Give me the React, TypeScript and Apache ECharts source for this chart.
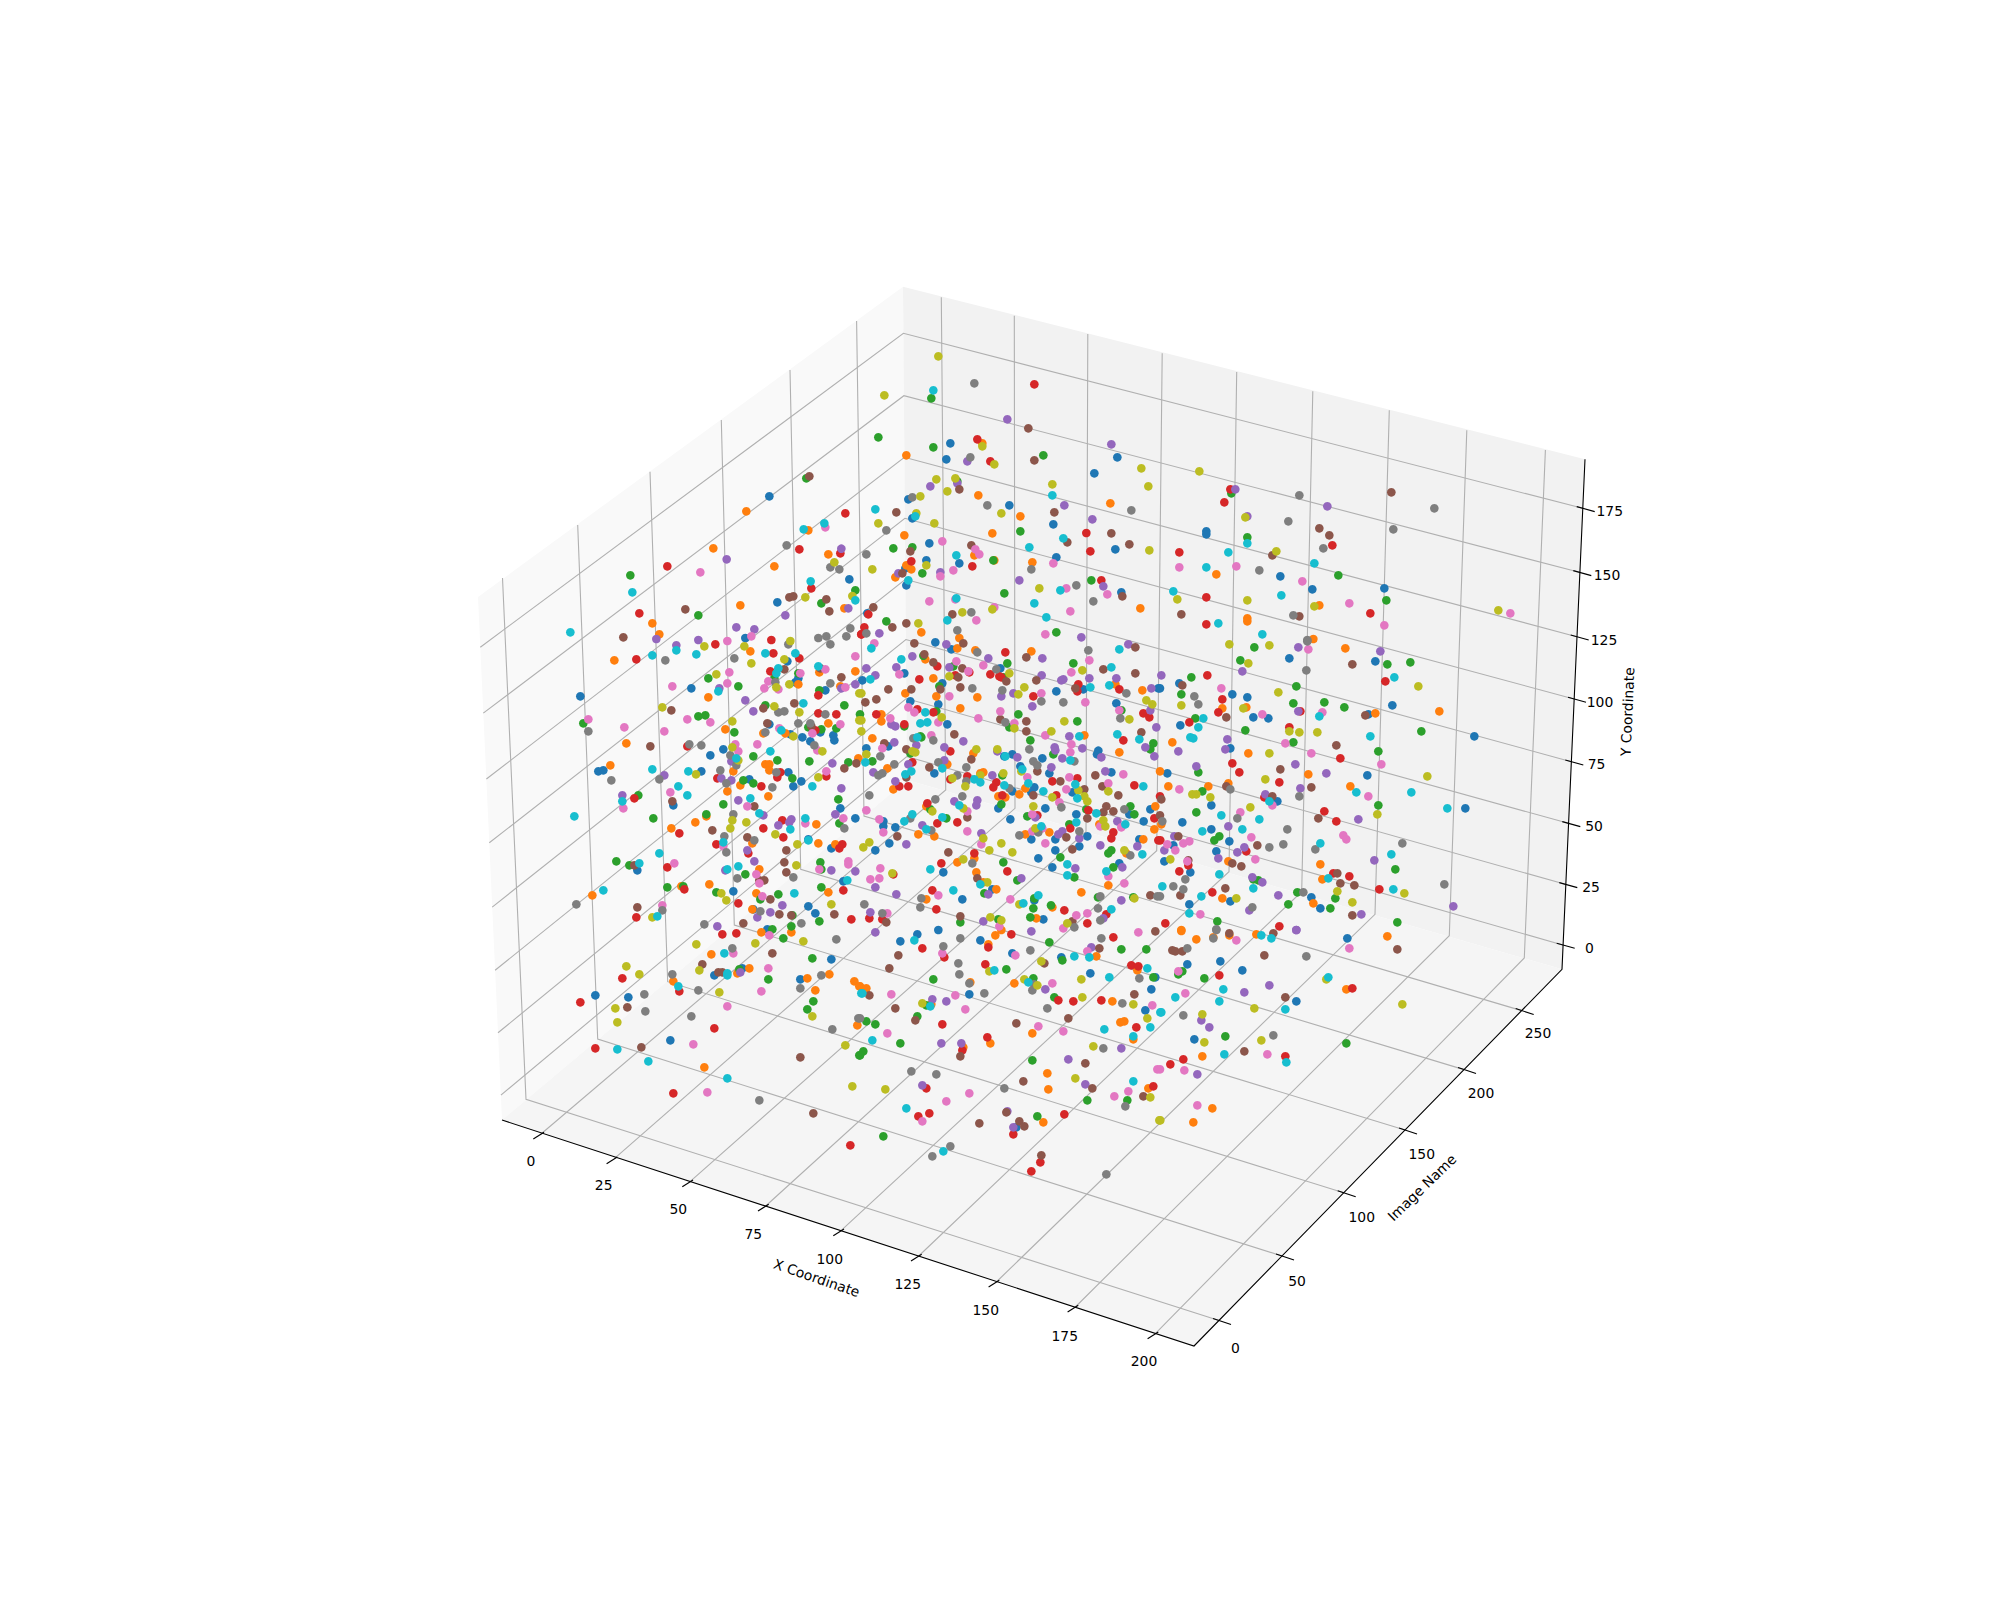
import React, { useEffect, useRef } from "react";
import * as echarts from "echarts";

// colour index: 0 blue,1 orange,2 green,3 red,4 purple,5 brown,6 pink,7 gray,8 olive,9 cyan
const seriesColors = ["#1f77b4","#ff7f0e","#2ca02c","#d62728","#9467bd","#8c564b","#e377c2","#7f7f7f","#bcbd22","#17becf"];
type P = [number, number, number];

// Points: projected position within a tile (tile units are 1/3 px), and colour index
const tileA: P[] = [[739,385,2],[748,379,5],[628,439,0],[559,484,1],[856,490,3],[793,520,9],[796,532,6],[731,538,9],[745,541,1],[680,586,7],[718,598,3],[844,596,4],[841,610,3],[805,613,1],[823,637,8],[811,652,7],[838,658,7],[460,595,1],[500,628,4],[322,649,3],[421,667,6],[643,649,1],[211,676,2],[217,727,9],[752,694,9],[868,688,0],[754,715,3],[886,721,2],[877,738,8],[886,751,9],[688,742,5],[700,739,5],[736,742,8],[652,757,0],[799,748,5],[784,760,2],[853,775,1],[865,775,4],[808,784,5],[541,766,1],[376,778,5],[415,796,2],[238,790,3],[676,796,4],[277,820,1],[529,832,4],[583,838,4],[871,835,7],[31,847,9],[298,853,1],[190,862,5],[289,867,4],[415,870,4],[502,873,6],[556,864,0],[574,859,6],[634,870,3],[691,873,8],[775,864,7],[799,859,7],[859,859,7],[904,853,3]];
const tileB: P[] = [[235,19,8],[343,100,7],[523,103,3],[73,136,8],[220,121,9],[214,145,2],[442,208,4],[505,235,5],[55,262,2],[220,292,2],[271,280,0],[367,280,1],[352,268,3],[367,289,8],[754,283,4],[139,316,1],[259,328,0],[322,334,4],[331,322,7],[403,343,8],[391,334,3],[523,331,5],[550,316,2],[772,322,0],[844,355,8],[703,370,0],[229,388,8],[292,400,4],[292,394,2],[286,385,8],[211,409,4],[577,403,8],[865,409,8],[262,424,8],[298,418,5],[577,436,9],[355,436,1],[145,448,0],[157,442,7],[181,439,8],[751,460,1],[613,466,4],[382,466,7],[448,466,0],[46,478,9],[109,487,5],[166,499,9],[157,505,0],[169,490,8],[424,490,8],[481,499,1],[583,487,5],[814,481,7],[697,508,4],[55,520,8],[223,520,8],[580,523,0],[79,541,7],[133,556,1],[397,550,1],[481,544,2],[679,549,3],[754,550,5],[622,577,5],[610,565,9],[247,574,6],[208,580,0],[334,586,5],[100,595,2],[151,604,5],[157,592,2],[508,592,9],[346,598,6],[808,583,5],[766,598,0],[868,601,8],[691,604,3],[19,613,7],[358,613,6],[343,616,1],[289,616,9],[589,622,0],[154,634,3],[199,646,8],[199,631,0],[400,631,2],[403,631,1],[517,637,1],[580,640,6],[298,640,0],[136,655,0],[139,646,1],[337,649,3],[37,658,8],[154,658,1],[280,661,6],[514,658,7],[241,667,4],[115,670,4],[127,670,5],[187,670,2],[241,679,6],[106,682,1],[478,691,4],[694,691,2],[724,691,3],[139,706,0],[145,691,9],[649,706,7],[730,709,4],[538,715,8],[619,715,6],[601,721,9],[433,730,2],[787,739,5],[784,727,0],[742,733,6],[286,748,6],[289,745,9],[208,754,6],[700,754,7],[523,760,9],[841,775,1],[40,772,5],[397,778,8],[403,772,6],[307,787,8],[334,787,7],[277,793,5],[631,784,6],[22,790,0],[25,793,3],[559,802,9],[79,814,2],[262,811,9],[349,811,6],[139,820,5],[175,820,8],[13,832,3],[97,832,5],[292,841,7],[184,847,1],[589,847,2],[556,853,6],[58,850,4],[19,850,7],[4,853,3],[664,862,4],[298,864,1]];
const tileC: P[] = [[118,364,8],[211,418,3],[214,430,2],[226,418,4],[418,436,7],[694,427,5],[193,457,3],[502,469,4],[823,475,7],[262,499,4],[256,502,8],[385,514,7],[478,535,5],[700,538,7],[139,544,0],[139,553,0],[508,556,5],[262,562,2],[262,580,9],[517,586,3],[490,595,7],[349,604,8],[58,607,3],[205,607,9],[337,616,5],[463,640,9],[58,652,6],[139,652,9],[229,649,6],[298,661,7],[169,673,1],[361,679,0],[535,676,2],[427,694,6],[457,718,0],[673,715,0],[40,724,9],[364,736,9],[139,742,3],[52,748,8],[262,751,8],[679,751,2],[568,760,6],[478,766,1],[463,769,8],[64,793,5],[631,790,3],[400,796,7],[418,799,5],[1015,781,8],[1051,790,6],[262,805,1],[262,814,1],[139,823,3],[175,820,9],[307,853,9],[673,826,6],[442,870,7],[460,867,1]];
const tileD: P[] = [[349,16,4],[433,19,8],[466,13,3],[553,19,8],[685,13,7],[811,13,7],[349,31,9],[571,34,1],[277,46,9],[409,43,9],[616,40,9],[640,40,3],[706,40,9],[886,49,6],[163,61,1],[229,58,3],[316,61,7],[523,55,7],[673,58,8],[682,64,0],[718,55,3],[574,70,8],[775,79,9],[781,85,5],[796,88,6],[655,85,9],[673,88,5],[631,94,3],[649,100,9],[778,97,1],[886,94,1],[715,100,2],[721,100,6],[469,103,8],[508,97,6],[445,115,2],[844,112,5],[715,115,0],[643,115,2],[625,124,6],[646,127,7],[706,127,0],[715,133,1],[811,130,7],[886,133,4],[502,130,6],[688,133,8],[337,139,6],[394,145,0],[535,139,2],[649,142,8],[613,145,6],[655,148,6],[841,139,1],[844,145,4],[856,142,6],[478,145,4],[475,154,9],[778,151,2],[796,151,0],[775,166,3],[898,160,8],[445,172,1],[61,169,0],[556,181,4],[703,190,5],[730,190,9],[853,196,2],[616,196,2],[643,199,8],[307,202,8],[334,211,5],[610,205,5],[580,214,4],[655,217,7],[673,214,7],[718,217,8],[775,220,3],[796,223,7],[829,223,3],[415,229,2],[436,226,2],[85,238,6],[382,238,6],[451,247,6],[517,244,8],[628,253,0],[622,250,5],[715,250,7],[751,250,7],[805,250,1],[841,253,6],[898,241,8],[70,250,2],[193,262,6],[85,274,7],[313,274,6],[496,268,1],[523,277,2],[745,262,2],[754,259,5],[658,265,6],[664,271,9],[766,271,3],[784,268,2],[829,265,2],[616,277,7],[610,280,1],[691,283,0],[676,280,1],[757,280,6],[781,277,0],[700,289,8],[727,292,0],[820,286,0],[823,301,0],[199,310,1],[271,319,5],[382,319,3],[388,313,7],[424,316,7],[592,313,6],[526,313,6],[517,322,8],[751,304,0],[763,316,7],[772,331,6],[787,334,8],[490,328,0],[535,334,6],[631,334,9],[451,346,0],[511,346,7],[580,349,2],[535,361,8],[514,364,4],[529,355,9],[529,376,7],[652,361,2],[748,364,2],[865,367,2],[895,355,1],[889,370,5],[817,370,4],[151,376,1],[616,373,1],[628,373,1],[853,385,5],[115,394,0],[130,391,0],[277,388,9],[385,394,9],[424,394,0],[408,403,8],[481,391,7],[520,394,1],[628,391,1],[661,397,3],[649,397,7],[685,397,0],[799,394,6],[313,406,4],[298,418,7],[154,421,7],[472,415,3],[484,415,4],[514,421,4],[550,421,2],[568,418,0],[697,415,2],[652,412,3],[799,409,3],[775,412,8],[724,424,0],[499,430,7],[580,430,2],[541,436,1],[604,439,3],[700,439,0],[637,442,7],[757,439,9],[355,439,9],[844,445,4],[331,457,6],[502,454,1],[382,466,9],[187,466,4],[235,466,2],[223,475,3],[187,484,9],[625,469,1],[571,475,9],[535,481,4],[835,478,2],[340,496,0],[337,484,5],[490,493,2],[190,505,6],[562,499,6],[583,499,5],[841,505,0],[43,529,9],[280,535,2],[520,523,7],[439,529,1],[439,523,2],[610,526,4],[598,520,9],[826,523,4],[517,541,8],[667,541,3],[694,538,4],[886,535,0],[850,535,6],[736,535,9],[688,547,4],[736,550,6],[769,553,1],[406,547,1],[559,547,8],[655,556,4],[838,550,2],[511,565,8],[334,565,1],[610,565,3],[691,568,9],[853,565,7],[457,571,5],[358,580,3],[646,583,8],[493,589,7],[562,592,5],[670,592,3],[583,601,7],[745,598,0],[745,601,9],[775,610,1],[490,607,9],[577,610,1],[469,613,3],[490,619,6],[712,613,8],[826,613,1],[847,613,3],[814,625,0],[838,625,3],[562,631,4],[679,631,5],[565,640,3],[499,637,7],[298,640,9],[583,664,4],[169,664,2],[343,670,6],[673,667,5],[781,667,2],[865,664,6],[865,673,6],[238,670,9],[208,676,2],[232,691,0],[223,676,5],[322,682,3],[535,679,9],[709,676,8],[886,694,4],[814,691,4],[502,688,9],[496,691,4],[598,688,1],[784,688,2],[778,688,6],[679,697,5],[556,703,2],[589,703,6],[700,712,7],[532,715,7],[598,730,6],[598,721,5],[613,721,5],[850,724,0],[862,721,9],[448,733,1],[373,748,3],[364,739,1],[370,739,2],[322,742,2],[520,754,0],[784,742,2],[850,751,3],[805,757,1],[130,751,9],[469,757,2],[484,760,8],[589,760,1],[703,760,9],[655,763,2],[97,766,1],[607,769,6],[631,778,5],[601,778,2],[499,781,8],[49,793,7],[535,790,3],[814,793,8],[667,796,4],[745,799,0],[232,802,5],[307,811,7],[307,796,6],[577,808,1],[580,808,0],[601,814,7],[766,820,0],[631,817,4],[658,823,5],[697,826,2],[694,826,5],[823,823,5],[229,832,3],[292,829,9],[277,832,8],[592,832,4],[874,838,3],[778,844,2],[724,850,7],[550,850,5],[433,853,7],[472,859,4],[694,859,2],[622,868,0],[637,868,2]];
const tileE: P[] = [[43,10,6],[163,10,5],[226,7,0],[259,13,4],[310,10,5],[805,13,4],[826,22,5],[274,28,0],[292,25,1],[34,25,9],[352,37,7],[346,31,1],[436,37,3],[514,34,1],[685,31,7],[778,28,9],[157,49,4],[193,43,5],[190,47,2],[499,52,5],[547,55,4],[196,58,1],[688,61,6],[124,58,9],[289,64,6],[220,67,5],[442,70,2],[232,79,3],[640,70,2],[385,55,4],[370,76,6],[268,82,4],[280,79,2],[307,85,5],[409,88,7],[421,85,0],[754,82,9],[730,88,5],[826,100,5],[667,91,8],[634,97,6],[109,82,4],[19,85,4],[448,100,8],[328,97,3],[325,94,6],[391,103,3],[133,100,0],[118,103,6],[46,106,4],[268,109,8],[295,112,5],[286,106,3],[430,112,2],[418,109,3],[424,112,3],[545,106,4],[220,115,1],[178,118,3],[31,118,9],[7,121,0],[529,121,5],[688,115,4],[604,121,4],[610,118,4],[769,115,4],[439,124,5],[238,139,2],[247,130,0],[241,148,5],[655,133,3],[337,145,7],[301,142,5],[748,136,9],[766,133,1],[778,148,3],[691,142,9],[646,145,5],[670,148,0],[493,142,8],[85,148,5],[154,148,5],[136,160,1],[427,151,7],[589,154,0],[652,154,3],[847,151,1],[874,145,4],[895,145,0],[460,160,4],[475,163,8],[544,160,6],[799,160,7],[4,160,8],[268,169,6],[229,169,1],[520,169,3],[424,169,4],[352,172,1],[517,199,4],[859,181,8],[16,187,5],[49,178,5],[151,184,0],[544,184,7],[610,187,7],[676,187,6],[877,193,8],[769,190,0],[235,193,0],[145,202,6],[301,205,1],[172,208,3],[871,211,4],[784,211,2],[778,211,6],[421,214,6],[475,223,2],[229,214,2],[196,217,9],[220,217,3],[163,217,6],[49,223,3],[64,223,1],[850,220,3],[868,232,3],[245,232,8],[781,235,7],[808,238,8],[355,235,6],[91,235,6],[421,238,5],[4,241,8],[0,223,2],[64,244,1],[181,250,9],[202,247,9],[235,247,6],[436,247,7],[499,244,5],[613,244,8],[652,244,2],[133,259,2],[133,253,3],[94,253,4],[106,259,4],[262,253,0],[463,250,6],[463,265,8],[448,262,2],[889,262,4],[499,274,5],[574,274,8],[4,274,8],[844,277,5],[772,283,9],[556,286,6],[283,283,5],[214,286,6],[181,289,2],[184,292,2],[160,295,7],[172,292,9],[220,301,7],[628,289,4],[658,289,9],[673,286,1],[37,295,1],[790,301,3],[838,298,9],[310,304,4],[511,301,2],[73,310,5],[103,307,4],[169,316,4],[634,313,6],[880,310,2],[67,325,6],[85,319,0],[856,322,4],[139,328,5],[253,322,4],[508,328,7],[667,325,4],[871,328,2],[19,325,0],[271,334,3],[349,328,8],[412,328,8],[412,334,4],[340,340,1],[151,340,2],[157,334,8],[166,337,8],[584,322,4],[586,331,4],[631,337,6],[715,332,0],[711,343,0],[778,337,1],[19,343,8],[580,343,2],[457,343,0],[433,349,0],[436,349,9],[61,349,7],[724,352,4],[883,349,4],[472,352,4],[334,358,5],[607,355,4],[547,355,0],[37,364,2],[16,367,9],[631,361,9],[643,364,7],[520,364,7],[253,361,4],[145,373,4],[157,367,3],[481,379,0],[532,376,7],[103,373,7],[262,373,1],[574,382,4],[235,367,7],[319,382,7],[208,382,5],[247,385,9],[82,385,1],[484,394,8],[487,388,9],[532,394,5],[568,400,0],[40,397,4],[55,406,7],[67,400,7],[136,403,9],[154,394,9],[361,400,1],[370,397,1],[223,400,0],[292,406,7],[322,409,3],[361,406,8],[397,406,4],[430,400,8],[427,406,2],[736,394,4],[754,397,0],[790,403,6],[706,406,5],[628,412,6],[652,415,3],[139,412,5],[502,412,6],[409,427,3],[271,418,3],[277,415,8],[343,418,9],[361,427,9],[319,424,7],[577,424,3],[601,424,5],[646,433,9],[106,424,4],[316,439,8],[745,430,6],[727,439,5],[823,436,3],[850,439,9],[433,436,9],[400,442,3],[118,439,3],[145,439,3],[505,430,9],[448,445,7],[523,442,0],[496,445,1],[100,448,1],[619,448,6],[655,451,8],[673,448,5],[637,457,0],[550,454,9],[457,454,0],[514,457,0],[745,454,8],[775,466,5],[28,466,7],[415,469,1],[436,472,1],[427,466,3],[478,463,1],[520,466,5],[589,466,3],[307,469,7],[673,469,8],[577,472,8],[652,475,9],[226,478,7],[352,481,4],[682,484,8],[283,484,4],[598,487,6],[199,499,1],[202,490,3],[298,496,9],[349,496,4],[424,493,2],[415,505,0],[520,499,8],[739,499,5],[811,499,2],[604,502,7],[556,505,0],[871,508,0],[886,499,1],[310,505,8],[211,508,2],[217,514,8],[19,511,6],[322,514,6],[685,511,3],[679,508,2],[709,520,9],[730,517,5],[760,514,5],[793,508,7],[808,523,0],[823,523,2],[649,523,0],[532,526,3],[517,523,6],[526,532,4],[157,523,9],[322,532,5],[502,529,2],[883,535,3],[682,535,5],[259,535,2],[247,532,9],[151,535,7],[58,538,6],[70,544,0],[133,544,9],[451,538,0],[772,544,4],[730,541,8],[232,550,3],[292,547,3],[70,559,0],[187,556,4],[628,553,2],[649,547,9],[544,559,9],[547,565,6],[718,553,1],[721,559,6],[736,559,8],[796,553,9],[851,544,0],[784,562,6],[631,565,3],[199,568,9],[214,571,7],[322,574,6],[526,565,8],[517,574,6],[883,568,1],[70,577,6],[175,583,1],[106,562,0],[364,580,4],[658,574,7],[607,574,4],[595,583,4],[568,577,1],[535,577,7],[496,583,1],[478,586,7],[760,577,3],[223,589,1],[112,589,5],[682,589,0],[619,592,5],[586,598,0],[514,598,0],[754,595,3],[370,595,8],[850,598,1],[838,598,0],[658,595,4],[895,601,3],[28,607,8],[88,610,0],[139,613,4],[556,610,6],[424,610,8],[364,613,6],[721,616,4],[832,619,4],[10,622,8],[658,619,0],[46,631,0],[388,631,8],[637,628,5],[586,631,0],[793,631,8],[754,631,2],[745,640,2],[265,637,5],[457,637,8],[343,640,3],[799,640,1],[811,646,7],[847,643,9],[601,652,2],[535,655,0],[343,655,1],[310,658,8],[244,670,3],[292,667,1],[337,670,7],[430,667,2],[622,673,9],[778,670,0],[760,682,2],[787,682,4],[577,682,0],[646,685,4],[61,685,6],[211,688,9],[250,697,0],[442,694,3],[739,694,9],[100,703,3],[97,700,8],[349,697,1],[745,709,6],[58,715,6],[31,718,6],[622,706,9],[643,712,2],[352,715,5],[484,715,4],[472,721,2],[370,727,1],[382,727,8],[361,733,9],[745,736,1],[793,730,6],[46,742,4],[217,751,3],[280,751,9],[409,748,1],[397,748,0],[373,760,2],[385,763,4],[109,763,4],[235,766,6],[664,757,1],[535,766,9],[523,775,2],[871,766,5],[892,769,7],[714,772,2],[721,769,7],[823,775,8],[820,772,2],[199,778,1],[184,775,7],[307,778,0],[451,778,6],[523,781,0],[784,781,4],[490,790,9],[478,793,8],[13,793,7],[573,796,2],[577,802,1],[181,802,7],[229,808,3],[520,805,2],[613,811,3],[714,805,7],[754,808,9],[31,817,4],[82,820,6],[67,820,7],[682,820,6],[739,823,3],[301,829,5],[391,832,8],[649,826,6],[511,832,2],[529,835,1],[550,838,0],[721,841,7],[730,835,4],[28,835,3],[67,838,3],[79,847,5],[415,838,2],[424,841,8],[370,844,4],[301,847,2],[622,850,8],[637,844,5],[682,850,3],[418,859,6],[643,862,7],[610,865,6]];
const tileF: P[] = [[208,13,8],[283,22,2],[328,16,8],[415,22,4],[442,4,7],[445,28,6],[556,25,1],[661,34,4],[388,55,0],[241,61,2],[265,70,8],[646,64,0],[682,73,2],[751,67,2],[577,73,5],[439,91,7],[247,94,4],[4,106,4],[94,112,2],[142,106,3],[703,112,9],[676,124,3],[67,136,5],[58,130,0],[409,139,2],[775,139,8],[184,145,6],[0,145,0],[355,157,8],[217,163,0],[64,163,2],[103,169,7],[262,172,0],[187,178,3],[400,190,2],[493,187,2],[697,196,0],[115,193,7],[64,196,8],[250,205,8],[259,202,1],[553,202,2],[187,205,1],[175,217,3],[421,214,3],[415,214,4],[487,217,6],[838,214,1],[199,232,5],[307,223,6],[616,226,5],[625,223,0],[646,220,1],[478,229,9],[280,232,0],[325,235,0],[106,235,2],[130,235,9],[88,247,3],[61,256,0],[115,262,9],[388,274,8],[388,262,3],[256,271,2],[418,277,8],[472,277,8],[784,274,2],[631,289,9],[943,289,0],[91,292,9],[100,295,9],[202,298,4],[37,307,1],[400,307,2],[376,310,6],[529,316,5],[196,328,4],[211,325,0],[55,334,4],[655,334,2],[265,340,1],[328,340,8],[454,340,6],[541,355,3],[664,373,6],[217,370,3],[406,373,4],[109,379,4],[361,388,5],[238,397,3],[115,397,2],[22,400,0],[0,394,1],[445,403,1],[499,400,4],[622,406,0],[802,409,8],[316,418,8],[358,427,3],[205,430,1],[199,439,5],[25,439,1],[145,439,1],[211,448,7],[58,448,6],[421,445,4],[454,442,5],[571,439,1],[127,454,2],[589,457,9],[754,457,9],[97,463,8],[109,463,8],[313,472,3],[316,463,4],[337,469,5],[418,469,7],[625,469,6],[151,472,8],[0,469,3],[4,478,5],[328,484,9],[352,484,0],[337,496,6],[154,496,0],[655,496,2],[271,502,8],[862,505,9],[916,505,0],[493,514,3],[241,517,6],[109,517,2],[652,523,8],[184,526,9],[0,526,5],[232,535,7],[475,535,5],[298,538,9],[595,538,4],[529,544,3],[7,544,7],[67,547,0],[4,553,1],[205,559,4],[247,568,9],[154,568,0],[382,568,7],[127,574,9],[550,586,6],[43,589,4],[55,589,5],[178,589,2],[274,592,6],[559,598,6],[163,601,2],[1,601,3],[208,604,0],[88,604,6],[70,610,6],[727,610,7],[481,610,9],[22,613,6],[40,616,0],[292,616,5],[370,613,7],[328,622,7],[253,622,4],[466,628,7],[13,631,4],[46,631,6],[259,634,3],[169,634,0],[232,637,4],[694,643,9],[286,658,6],[175,655,4],[31,658,8],[85,661,5],[643,661,4],[13,664,0],[205,664,1],[82,664,6],[85,676,3],[217,670,5],[481,673,1],[244,679,5],[706,688,2],[58,694,3],[91,697,0],[520,700,3],[532,700,5],[178,703,9],[568,709,3],[487,718,1],[505,715,9],[277,712,4],[76,718,7],[280,718,2],[295,721,2],[307,727,4],[541,730,5],[853,733,7],[7,739,9],[40,739,7],[583,736,5],[658,748,3],[700,748,9],[280,745,9],[196,745,5],[70,748,7],[532,754,8],[157,757,3],[412,757,2],[430,757,7],[733,760,8],[61,766,5],[355,766,4],[124,769,9],[0,769,7],[454,772,0],[187,775,1],[229,775,8],[526,775,2],[211,784,0],[460,790,1],[577,787,8],[385,793,2],[88,793,0],[880,799,4],[268,811,4],[277,802,7],[481,805,0],[511,805,2],[88,820,9],[121,823,6],[577,826,5],[604,823,4],[172,844,2],[712,847,2],[16,850,3],[358,859,3],[169,868,7],[64,870,1],[409,870,4]];
const tileG: P[] = [[487,13,3],[529,10,3],[604,7,1],[694,7,1],[628,16,6],[670,25,2],[829,28,7],[730,34,8],[586,40,8],[409,43,8],[517,55,7],[454,73,1],[493,70,9],[520,70,6],[637,70,5],[757,85,2],[814,88,0],[427,103,5],[199,109,8],[418,121,8],[625,115,6],[568,115,1],[547,115,0],[541,127,4],[538,118,2],[532,130,1],[475,127,5],[487,127,5],[463,136,0],[502,136,9],[502,130,9],[238,133,8],[337,133,7],[808,133,1],[784,136,7],[742,145,1],[721,148,0],[625,148,2],[187,145,3],[358,184,3],[340,154,1],[883,154,1],[355,169,9],[898,169,1],[415,181,7],[721,175,7],[766,181,1],[604,184,6],[478,187,8],[106,196,0],[205,202,0],[253,193,7],[904,190,9],[760,214,2],[61,217,3],[502,229,6],[166,235,8],[202,232,5],[742,238,2],[256,244,7],[757,259,8],[394,259,7],[895,265,7],[172,277,8],[892,286,1],[463,295,3],[817,298,7],[331,331,0],[400,343,6],[856,346,8],[106,355,3],[244,352,5],[172,358,9],[898,376,2],[721,382,5],[265,394,9],[433,412,1],[502,445,9],[877,469,8],[442,487,6],[340,490,3],[598,511,7],[760,550,5],[871,646,3]];
const tileH: P[] = [[46,7,4],[172,13,0],[235,0,0],[406,16,1],[424,0,1],[454,13,3],[514,4,4],[724,25,7],[760,22,3],[121,34,0],[163,31,9],[301,25,7],[361,31,0],[568,37,2],[835,7,6],[886,4,5],[385,52,3],[385,43,1],[250,49,7],[187,55,3],[694,52,4],[718,55,5],[784,58,2],[859,58,2],[682,64,6],[457,70,0],[511,61,7],[247,70,6],[466,76,6],[115,76,5],[253,82,3],[643,79,9],[688,82,9],[709,79,1],[607,91,2],[604,82,0],[553,100,5],[544,94,8],[295,100,7],[376,103,3],[814,106,3],[835,109,3],[862,115,9],[832,121,1],[88,115,5],[388,124,8],[403,121,9],[439,118,2],[691,130,0],[298,133,7],[748,142,9],[838,145,7],[886,142,0],[880,142,2],[220,148,2],[493,148,8],[520,145,2],[664,148,8],[331,157,1],[328,160,7],[505,157,9],[463,160,1],[577,160,6],[532,166,8],[522,163,7],[0,169,1],[19,175,1],[517,181,7],[556,178,4],[874,178,0],[7,190,9],[28,196,5],[94,193,6],[373,190,7],[328,193,0],[823,193,5],[286,196,6],[583,202,2],[667,202,8],[595,211,3],[640,214,3],[724,211,3],[757,214,1],[787,220,7],[820,223,8],[217,208,4],[259,214,4],[199,226,2],[211,229,9],[187,220,8],[214,223,1],[877,226,6],[316,238,6],[106,235,5],[562,235,7],[856,241,0],[901,247,9],[172,259,2],[166,271,5],[625,265,5],[862,265,8],[0,265,7],[19,274,2],[781,277,1],[793,274,1],[469,280,5],[247,283,3],[46,283,2],[535,289,6],[829,292,3],[871,292,9],[733,298,9],[610,304,6],[517,310,1],[82,310,6],[820,319,9],[382,322,3],[820,328,1],[37,331,9],[121,340,2],[391,340,1],[244,340,4],[304,340,4],[700,349,8],[730,355,7],[784,355,4],[307,361,3],[310,352,1],[10,364,2],[0,376,2],[301,379,5],[625,388,4],[517,391,2],[676,400,5],[892,418,6],[154,424,7],[562,430,1],[229,433,7],[646,445,8],[820,454,9],[490,454,5],[676,463,4],[199,475,3],[187,466,4],[76,478,8],[433,475,7],[565,478,1],[697,475,5],[865,475,1],[880,469,3],[805,484,6],[328,490,6],[850,499,5],[871,502,8],[763,499,6],[259,514,6],[682,511,2],[802,511,2],[796,529,7],[139,535,9],[442,544,4],[439,547,5],[208,550,3],[175,559,3],[532,559,2],[613,553,3],[187,574,6],[550,577,1],[478,574,5],[358,580,5],[493,589,5],[469,592,0],[460,592,4],[460,613,3],[898,571,8],[70,619,2],[271,649,7],[250,664,9],[544,676,5],[217,679,7],[541,697,3],[514,724,3],[739,733,7]];
const tileI: P[] = [[64,3,1],[169,0,7],[208,16,1],[208,10,5],[409,0,4],[340,10,5],[289,13,1],[304,16,9],[334,25,9],[109,28,1],[160,22,1],[160,25,7],[229,31,6],[562,25,0],[682,19,1],[568,55,6],[712,58,5],[37,61,5],[46,64,5],[67,64,5],[82,55,7],[313,76,5],[439,79,7],[181,94,0],[82,103,0],[247,121,0],[67,124,2],[55,133,2],[55,124,6],[178,136,3],[133,145,2],[505,142,9],[499,148,8],[328,166,4],[577,175,3],[559,178,1],[190,178,9],[253,187,4],[76,190,6],[46,202,9],[376,202,5],[409,214,0],[178,214,9],[727,223,8],[283,235,8],[376,238,9],[4,247,9],[127,253,8],[70,256,7],[124,271,4],[148,292,4],[340,316,7],[196,319,2],[304,331,8],[103,328,0],[133,337,8],[559,340,2],[253,364,5],[322,373,6],[193,373,9],[127,379,1],[376,379,3],[379,397,9],[70,388,3],[31,403,3],[73,421,6],[112,433,4],[0,418,6],[112,526,6],[157,535,1],[1,571,8],[100,577,1]];

const tiles: { ox: number; oy: number; pts: P[] }[] = [
  { ox: 560, oy: 350, pts: tileA }, { ox: 860, oy: 350, pts: tileB }, { ox: 1160, oy: 350, pts: tileC },
  { ox: 560, oy: 640, pts: tileD }, { ox: 860, oy: 640, pts: tileE }, { ox: 1160, oy: 640, pts: tileF },
  { ox: 560, oy: 930, pts: tileG }, { ox: 860, oy: 930, pts: tileH }, { ox: 1160, oy: 930, pts: tileI },
];

const xTicks = ["0","25","50","75","100","125","150","175","200"];
const yTicks = ["0","50","100","150","200","250"];
const zTicks = ["0","25","50","75","100","125","150","175"];

type XY = [number, number];
// box corners on the canvas
const A: XY = [502,1120], B: XY = [1194,1346], C: XY = [1562,969.3], D: XY = [1585,459.3], E: XY = [903,286.7], F: XY = [478,597], G: XY = [907,780];
// where the grid lines of each axis turn
const xFront: XY[] = [[541,1134],[614.3,1158.7],[690,1181.7],[765.7,1206],[841,1230.7],[918.7,1256],[996.3,1282],[1075.3,1307],[1155.3,1333.7]];
const xBack: XY[] = [[945.7,790],[1015,808.3],[1086,831.7],[1156.7,850.7],[1229,871.7],[1301.7,891.7],[1375,914.3],[1449.3,935.7],[1524.3,958]];
const xTop: XY[] = [[941.3,297.3],[1014.3,315.7],[1087.8,334],[1162.2,353.3],[1236.7,372],[1312.8,391.3],[1389.3,410.3],[1466.8,430.3],[1545.4,450]];
const yFront: XY[] = [[1219,1320.4],[1282,1256],[1343.7,1192.8],[1405,1130],[1464,1069.6],[1521.7,1010.6]];
const yBack: XY[] = [[526,1099.3],[597.7,1039],[667.7,981.7],[734.3,925],[800.7,869.3],[864,816]];
const yTop: XY[] = [[502.5,578],[577.7,525],[650,471.7],[721.3,420],[790,370],[856.6,321]];
const zLeft: XY[] = [[500.9,1095.1],[498,1032.8],[495.1,970.3],[492.2,907.1],[489.3,842.8],[486.4,779],[483.3,713.1],[480.3,647.2]];
const zBack: XY[] = [[906.8,756.5],[906.3,698.5],[905.9,639.5],[905.4,579.3],[904.9,518.3],[904.4,457.3],[903.9,395.7],[903.4,333.3]];
const zRight: XY[] = [[1562.7,945],[1565.3,884.3],[1568.3,823.3],[1571.3,761.7],[1574,699],[1576.7,636.7],[1579.3,572.3],[1582.7,508.3]];

type Shape = { pts: XY[]; fill?: string; stroke?: string; w?: number };
const shapes: Shape[] = [
  { pts: [A, G, E, F], fill: "#f9f9f9" },
  { pts: [G, C, D, E], fill: "#f2f2f2" },
  { pts: [A, B, C, G], fill: "#f5f5f5" },
];
const GRID = "#b0b0b0";
xFront.forEach((p, i) => shapes.push({ pts: [p, xBack[i], xTop[i]], stroke: GRID, w: 1.1 }));
yFront.forEach((p, i) => shapes.push({ pts: [p, yBack[i], yTop[i]], stroke: GRID, w: 1.1 }));
zLeft.forEach((p, i) => shapes.push({ pts: [p, zBack[i], zRight[i]], stroke: GRID, w: 1.1 }));
shapes.push({ pts: [A, B, C, D], stroke: "#000", w: 1.1 });
xFront.forEach((p) => shapes.push({ pts: [[p[0] + 3, p[1] - 1.7], [p[0] - 7.7, p[1] + 5]], stroke: "#000", w: 1.1 }));
yFront.forEach((p) => shapes.push({ pts: [[p[0] - 6, p[1] - 2], [p[0] + 12, p[1] + 4]], stroke: "#000", w: 1.1 }));
zRight.forEach((p) => shapes.push({ pts: [[p[0] - 6, p[1] - 1.7], [p[0] + 12, p[1] + 3.3]], stroke: "#000", w: 1.1 }));

const xLabelPos: XY[] = [[531,1161],[603.7,1185.3],[678.3,1209],[753.3,1234.3],[829.7,1259.3],[907.7,1284],[985.7,1310.3],[1064.7,1336.3],[1144,1361]];
const yLabelPos: XY[] = [[1235.3,1348.3],[1297,1280.6],[1361.7,1216.7],[1421.7,1154.3],[1481,1093.3],[1538,1033.3]];
const zLabelPos: XY[] = [[1589.5,948],[1591,887],[1594,826],[1596.5,764],[1600,702],[1604,639.7],[1607,575],[1609.7,511]];

const FONT = "DejaVu Sans";
const label = (text: string, p: XY, rotationDeg = 0) => ({
  type: "text" as const,
  x: p[0],
  y: p[1],
  rotation: (rotationDeg * Math.PI) / 180,
  silent: true,
  style: { text, fontFamily: FONT, fontSize: 13.9, fill: "#000", textAlign: "center", textVerticalAlign: "middle" },
});

export default function App() {
  const ref = useRef<HTMLDivElement>(null);
  useEffect(() => {
    document.body.style.margin = "0";
    const chart = echarts.init(ref.current!, null, { renderer: "svg" });
    const byColor: XY[][] = seriesColors.map(() => []);
    tiles.forEach((t) => t.pts.forEach(([x, y, c]) => byColor[c].push([t.ox + x / 3, t.oy + y / 3])));
    chart.setOption({
      animation: false,
      backgroundColor: "#ffffff",
      grid: { left: 0, right: 0, top: 0, bottom: 0 },
      xAxis: { type: "value", min: 0, max: 2000, show: false },
      yAxis: { type: "value", min: 0, max: 1600, inverse: true, show: false },
      graphic: [
        ...xTicks.map((t, i) => label(t, xLabelPos[i])),
        ...yTicks.map((t, i) => label(t, yLabelPos[i])),
        ...zTicks.map((t, i) => label(t, zLabelPos[i])),
        label("X Coordinate", [816.7, 1278], -19),
        label("Image Name", [1422, 1187.6], 44),
        label("Y Coordinate", [1627.5, 711.7], 87.4),
      ],
      series: [
        {
          type: "custom",
          silent: true,
          clip: false,
          z: 1,
          data: shapes.map((_, i) => [i]),
          renderItem: (params: any, api: any) => {
            const s = shapes[params.dataIndex];
            const points = s.pts.map((p) => api.coord(p));
            return s.fill
              ? { type: "polygon", shape: { points }, style: { fill: s.fill, stroke: "none" } }
              : { type: "polyline", shape: { points }, style: { fill: "none", stroke: s.stroke, lineWidth: s.w } };
          },
        },
        ...byColor.map((data, i) => ({
          type: "scatter",
          silent: true,
          clip: false,
          z: 2 + i,
          symbol: "circle",
          symbolSize: 8.6,
          itemStyle: { color: seriesColors[i], opacity: 1 },
          data,
        })),
      ],
    });
    return () => chart.dispose();
  }, []);
  return <div ref={ref} style={{ position: "absolute", left: 0, top: 0, width: 2000, height: 1600 }} />;
}
